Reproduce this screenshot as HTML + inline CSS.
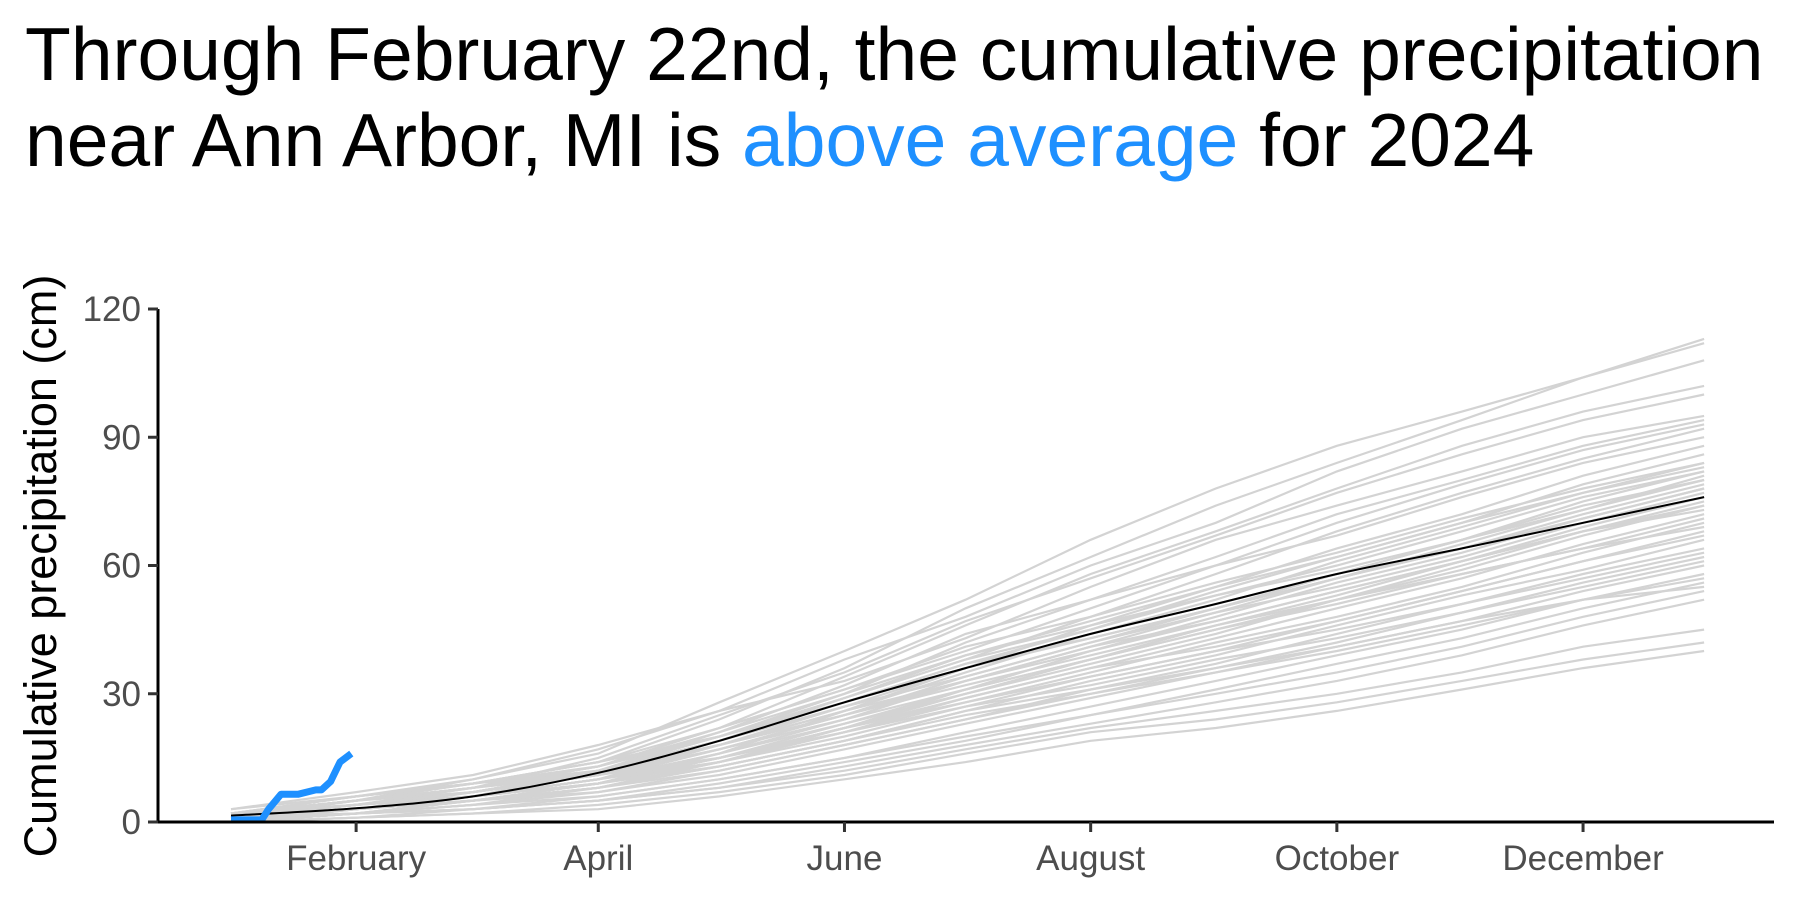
<!DOCTYPE html>
<html><head><meta charset="utf-8"><style>
html,body{margin:0;padding:0;background:#fff;}
svg{display:block;font-family:"Liberation Sans",Arial,sans-serif;}
</style></head><body>
<svg id="chart" width="1800" height="900" viewBox="0 0 1800 900" xmlns="http://www.w3.org/2000/svg">
<text x="25" y="80" font-size="75" fill="#000">Through February 22nd, the cumulative precipitation</text>
<text x="25" y="166" font-size="75" fill="#000">near Ann Arbor, MI is <tspan fill="#1e90ff">above average</tspan> for 2024</text>
<text transform="translate(56,566) rotate(-90)" text-anchor="middle" font-size="45" fill="#000">Cumulative precipitation (cm)</text>
<g id="plot"></g>
</svg>
<script>
const monthDays = [0,31,60,91,121,152,182,213,244,274,305,335,365];
const yTicks = [0,30,60,90,120];
const xTickDays = [31,91,152,213,274,335];
const xTickLabels = ["February","April","June","August","October","December"];
const meanValues = [1.5,3.2,6,11.5,19,28,36,44,51,58,64,70,76];
const blueDays = [0,7.6,9.3,12.4,16.7,21,22.4,24.7,25.2,27,29.8];
const blueValues = [0.5,0.5,3,6.5,6.5,7.5,7.5,9.5,10.5,14,16];
const historyLines = [
[2,6,10,16,28,40,52,66,78,88,96,104,113],
[1,5,9,14,24,36,50,62,74,84,94,104,112],
[3,7,11,18,26,38,48,60,70,82,92,100,108],
[2,6,9,13,22,34,46,58,68,78,88,96,102],
[1,4,8,15,25,35,47,57,67,77,86,94,100],
[2,5,10,17,26,33,43,55,66,74,82,90,95],
[1,4,7,12,20,30,42,52,62,72,80,88,94],
[3,6,9,14,22,31,40,50,60,70,79,87,93],
[1,5,8,11,19,29,38,48,58,68,77,85,92],
[2,4,7,12,21,32,44,52,60,67,76,84,90],
[1,3,6,10,18,27,36,46,55,64,72,81,88],
[2,5,8,13,20,28,37,45,54,62,70,79,86],
[1,3,5,9,16,26,35,44,52,61,69,77,84],
[2,4,7,12,19,27,34,42,50,58,66,75,82],
[1,4,6,10,17,24,33,41,49,57,65,73,80],
[0,2,5,9,15,23,31,40,48,56,63,71,78],
[2,5,7,11,17,25,32,39,46,53,61,69,76],
[1,3,6,10,16,23,30,37,44,52,59,67,74],
[1,4,6,9,15,22,29,36,43,50,57,65,72],
[0,3,5,8,14,21,28,35,42,48,55,63,70],
[2,4,6,10,15,21,27,34,40,47,54,61,68],
[1,3,5,8,13,19,26,33,39,46,53,59,66],
[1,2,4,7,12,18,24,31,37,44,51,58,64],
[0,2,4,8,13,19,25,30,36,42,49,56,62],
[1,3,5,7,11,17,23,29,35,41,47,54,60],
[0,2,3,6,10,15,21,27,33,39,45,52,58],
[1,2,4,6,10,15,20,25,31,37,43,50,56],
[0,1,3,5,9,14,19,25,30,35,41,48,54],
[0,2,3,5,8,13,18,23,28,33,39,46,52],
[1,2,3,5,8,12,17,22,26,30,35,41,45],
[0,1,2,4,7,11,16,21,24,28,33,38,42],
[0,1,2,3,6,10,14,19,22,26,31,36,40],
[2,5,8,13,22,31,41,48,56,63,71,78,84],
[1,4,7,11,18,26,36,44,51,58,66,74,80],
[0,3,6,12,20,29,38,45,53,60,68,76,82],
[1,3,5,9,15,22,31,38,45,52,60,68,75],
[2,6,9,14,20,29,39,47,55,62,70,77,83],
[1,4,8,12,19,28,37,43,50,57,64,72,79],
[0,3,7,11,17,25,34,42,49,55,62,70,77],
[2,5,9,12,18,26,33,41,47,54,61,68,73],
[1,4,6,10,16,24,31,38,45,51,58,64,71],
[0,3,6,9,14,21,29,36,41,47,54,61,67],
[2,4,7,11,15,22,28,34,40,45,51,57,63],
[1,3,6,10,14,20,27,32,38,43,49,55,61],
[0,2,5,8,12,18,24,30,35,40,46,52,57],
[1,3,6,9,13,19,26,31,36,41,47,52,55],
[2,5,8,12,19,28,36,43,50,57,64,71,78],
[1,4,7,12,18,25,33,40,47,54,61,68,74],
[0,2,5,8,14,22,30,38,46,52,58,64,69],
[1,5,8,13,21,30,39,46,53,59,66,73,81]
];
const NS="http://www.w3.org/2000/svg";
const X0=231, PXD=4.036, Y0=822, PXY=(822-309)/120;
const xs=d=>X0+d*PXD, ys=v=>Y0-v*PXY;
const g=document.getElementById('plot');
function mk(t,a){const e=document.createElementNS(NS,t);for(const k in a)e.setAttribute(k,a[k]);g.appendChild(e);return e;}
function linePath(days,vals){let d='M'+xs(days[0]).toFixed(1)+','+ys(vals[0]).toFixed(1);
 for(let i=1;i<days.length;i++){d+='L'+xs(days[i]).toFixed(1)+','+ys(vals[i]).toFixed(1);}return d;}
function smoothPath(days,vals){const P=days.map((d,i)=>[xs(d),ys(vals[i])]);
 let d='M'+P[0][0].toFixed(1)+','+P[0][1].toFixed(1);
 for(let i=0;i<P.length-1;i++){const p0=P[Math.max(0,i-1)],p1=P[i],p2=P[i+1],p3=P[Math.min(P.length-1,i+2)];
  const c1=[p1[0]+(p2[0]-p0[0])/6,p1[1]+(p2[1]-p0[1])/6],c2=[p2[0]-(p3[0]-p1[0])/6,p2[1]-(p3[1]-p1[1])/6];
  d+='C'+c1.map(v=>v.toFixed(1)).join(',')+' '+c2.map(v=>v.toFixed(1)).join(',')+' '+p2.map(v=>v.toFixed(1)).join(',');}
 return d;}
historyLines.forEach((vals,i)=>{
 const p=mk('path',{d:linePath(monthDays,vals),fill:'none',stroke:'#d3d3d3','stroke-width':2.2});
 
 
});
const m=mk('path',{d:smoothPath(monthDays,meanValues),fill:'none',stroke:'#000','stroke-width':2});


const b=mk('path',{d:linePath(blueDays,blueValues),fill:'none',stroke:'#1e90ff','stroke-width':7,'stroke-linejoin':'round'});


const ya=mk('line',{x1:158,y1:ys(120),x2:158,y2:Y0+1.5,stroke:'#000','stroke-width':3});


const xa=mk('line',{x1:156.5,y1:Y0,x2:1774,y2:Y0,stroke:'#000','stroke-width':3});


yTicks.forEach(v=>{
 const t=mk('line',{x1:148,y1:ys(v),x2:158,y2:ys(v),stroke:'#333','stroke-width':3});
 
 
 const l=mk('text',{x:141,y:ys(v)+12,'text-anchor':'end','font-size':35,fill:'#4d4d4d'});
 l.textContent=v;
 
 
});
xTickDays.forEach((d,i)=>{
 const t=mk('line',{x1:xs(d),y1:Y0,x2:xs(d),y2:Y0+10,stroke:'#333','stroke-width':3});
 
 
 const l=mk('text',{x:xs(d),y:Y0+48,'text-anchor':'middle','font-size':35,fill:'#4d4d4d'});
 l.textContent=xTickLabels[i];
 
 
});
</script>
</body></html>
